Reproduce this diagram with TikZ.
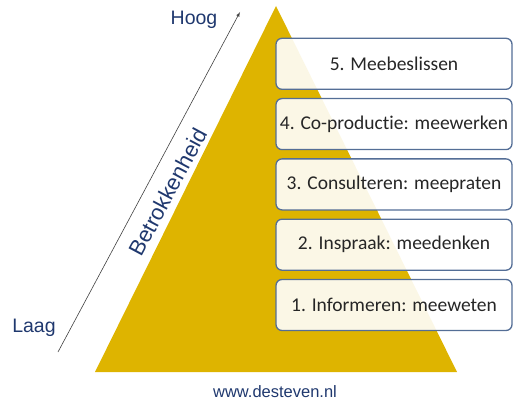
\documentclass[tikz,border=0pt]{standalone}
\usepackage{fontspec}
\setmainfont[Ligatures=NoCommon]{Carlito}
\newfontfamily\arialfont{Liberation Sans}
\usetikzlibrary{positioning}
\definecolor{gold}{RGB}{222,180,0}
\definecolor{navy}{RGB}{31,56,110}
\definecolor{rim}{RGB}{84,110,150}
\tikzset{
  stage/.style={draw=rim, line width=1.3pt, rounded corners=6pt, fill=white,
    fill opacity=0.9, text opacity=1, minimum width=236pt, minimum height=51pt,
    inner sep=0pt, font=\fontsize{19.5}{21}\selectfont, text=black!85},
  side/.style={text=navy, font=\arialfont\fontsize{19.5}{21}\selectfont}
}
\begin{document}
\begin{tikzpicture}[x=1pt,y=1pt]
\useasboundingbox (0,0) rectangle (514,405);
% pyramid
\fill [gold] (95,33) -- (457,33) -- (276,399) -- cycle;

% the five steps, bottom to top
\node [stage] (s1) at (394,100) {1. Informeren: meeweten};
\node [stage, above=8pt of s1] (s2) {2. Inspraak: meedenken};
\node [stage, above=8pt of s2] (s3) {3. Consulteren: meepraten};
\node [stage, above=8pt of s3] (s4) {4. Co-productie: meewerken};
\node [stage, above=8pt of s4] (s5) {5. Meebeslissen};

% axis
\coordinate (low) at (58,53);
\coordinate (high) at (240,393);
\draw [-latex, black!75, line width=0.6pt] (low) -- (high)
  node [pos=0.5, below=12pt, sloped, side, inner sep=1pt, font=\arialfont\fontsize{22}{24}\selectfont] (axis) {Betrokkenheid};
\node [side] (hoog) at (194,385) {Hoog};
\node [side] (laag) at (34,77) {Laag};

\node [text=navy, font=\arialfont\fontsize{16.5}{18}\selectfont] (site) at (275,13) {www.desteven.nl};
\end{tikzpicture}
\end{document}
